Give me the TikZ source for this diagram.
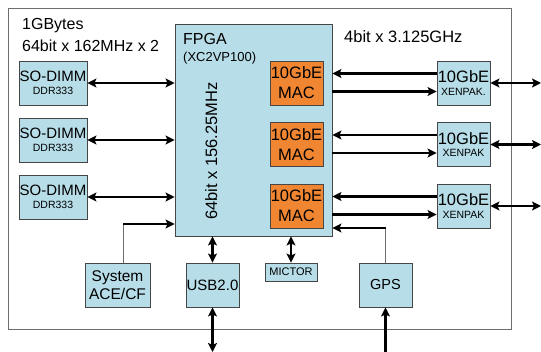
\documentclass[tikz,border=0pt]{standalone}
\usepackage{fontspec}
\setmainfont{Liberation Sans}
\usetikzlibrary{arrows.meta,calc}
\definecolor{boxblue}{RGB}{183,221,232}
\definecolor{macorange}{RGB}{240,134,50}
\definecolor{edgegray}{RGB}{70,70,70}
\definecolor{framegray}{RGB}{110,110,110}
\newcommand{\myfs}[2]{\fontsize{#1}{#2}\selectfont}
\begin{document}
\begin{tikzpicture}[x=1pt,y=-1pt,
  blk/.style={draw=edgegray, line width=0.9pt, fill=boxblue, inner sep=0pt, align=center},
  dimm/.style={blk, minimum width=68pt, minimum height=44pt, font=\myfs{15}{13}},
  mac/.style={draw=edgegray, line width=0.9pt, fill=macorange, inner sep=0pt, align=center, minimum width=53pt, minimum height=44pt, font=\myfs{16.5}{20}},
  xen/.style={blk, minimum width=53pt, minimum height=44pt, font=\myfs{16.5}{12.5}},
  lbl/.style={inner sep=0pt, anchor=base west},
  arr/.style={line width=2.2pt, -{Stealth[length=9pt,width=9pt,inset=2pt]}},
  dbl/.style={line width=2.2pt, {Stealth[length=9pt,width=9pt,inset=2pt]}-{Stealth[length=9pt,width=9pt,inset=2pt]}},
  feed/.style={draw=framegray, line width=0.8pt}
]
\useasboundingbox (0,0) rectangle (541,352);
% outer frame
\draw[framegray, line width=0.8pt] (8,8) rectangle (511,329);

% labels
\node[lbl, font=\myfs{16}{18}] (gbytes) at (22,30) {1GBytes};
\node[lbl, font=\myfs{16}{18}] (membw) at (22,52) {64bit x 162MHz x 2};
\node[lbl, font=\myfs{16.5}{18}] (xaui) at (344,43) {4bit x 3.125GHz};

% FPGA
\node[blk, minimum width=157pt, minimum height=212pt] (fpga) at (253.5,130) {};
\node[lbl, font=\myfs{16}{18}] (fpgalbl) at (183,45) {FPGA};
\node[lbl, font=\myfs{13}{15}] (fpgapart) at (183,62) {(XC2VP100)};
\node[inner sep=0pt, anchor=base, rotate=90, font=\myfs{16.5}{18}] (fpgabw) at (217,151) {64bit x 156.25MHz};

% MACs
\node[mac] (mac1) at (296.5,83) {10GbE\\MAC};
\node[mac] (mac2) at (296.5,144.5) {10GbE\\MAC};
\node[mac] (mac3) at (296.5,206) {10GbE\\MAC};

% SO-DIMMs
\node[dimm] (d1) at (53,83) {SO-DIMM\\{\myfs{10.5}{13}DDR333}};
\node[dimm] (d2) at (53,140) {SO-DIMM\\{\myfs{10.5}{13}DDR333}};
\node[dimm] (d3) at (53,197) {SO-DIMM\\{\myfs{10.5}{13}DDR333}};

% XENPAKs
\node[xen] (x1) at (463.5,83) {10GbE\\{\myfs{10.5}{12.5}XENPAK.}};
\node[xen] (x2) at (463.5,144.5) {10GbE\\{\myfs{10.5}{12.5}XENPAK}};
\node[xen] (x3) at (463.5,206) {10GbE\\{\myfs{10.5}{12.5}XENPAK}};

% bottom row
\node[blk, minimum width=65pt, minimum height=44pt, font=\myfs{15.5}{18}] (ace) at (117.5,285) {System\\ACE/CF};
\node[blk, minimum width=53pt, minimum height=44pt, font=\myfs{15}{18}] (usb) at (212.5,285) {USB2.0};
\node[blk, minimum width=52pt, minimum height=18pt, font=\myfs{11}{13}] (mictor) at (291,272) {MICTOR};
\node[blk, minimum width=53pt, minimum height=44pt, font=\myfs{14.5}{18}] (gps) at (385.5,285) {GPS};

% free ends
\coordinate (e1) at (541,83);
\coordinate (e2) at (541,144.5);
\coordinate (e3) at (541,206);
\coordinate (usbend) at (212.5,352);
\coordinate (gpsend) at (385.5,352);

% memory links
\foreach \d in {d1,d2,d3}
  \draw[dbl] (\d.east) -- (\d.east -| fpga.west);

% XAUI links
\foreach \x in {x1,x2,x3}{
  \draw[arr] ([yshift=9.5pt]\x.west) -- ([yshift=9.5pt]\x.west -| fpga.east);
  \draw[arr] ([yshift=-8.5pt]\x.west -| fpga.east) -- ([yshift=-8.5pt]\x.west);
}
\draw[dbl] (x1.east) -- (e1);
\draw[dbl] (x2.east) -- (e2);
\draw[dbl] (x3.east) -- (e3);

% System ACE
\coordinate (acebend) at ([xshift=5.5pt]ace.north |- 0,224);
\draw[feed] ([xshift=5.5pt]ace.north) -- (acebend);
\draw[arr] (acebend) -- (acebend -| fpga.west);

% USB
\draw[dbl] (usb.north) -- (usb.north |- fpga.south);
\draw[dbl] (usb.south) -- (usbend);

% MICTOR
\draw[dbl] (mictor.north) -- (mictor.north |- fpga.south);

% GPS
\coordinate (gpsbend) at (gps.north |- 0,228);
\draw[feed] (gps.north) -- (gpsbend);
\draw[arr] (gpsbend) -- (gpsbend -| fpga.east);
\draw[arr] (gpsend) -- (gps.south);
\end{tikzpicture}
\end{document}
